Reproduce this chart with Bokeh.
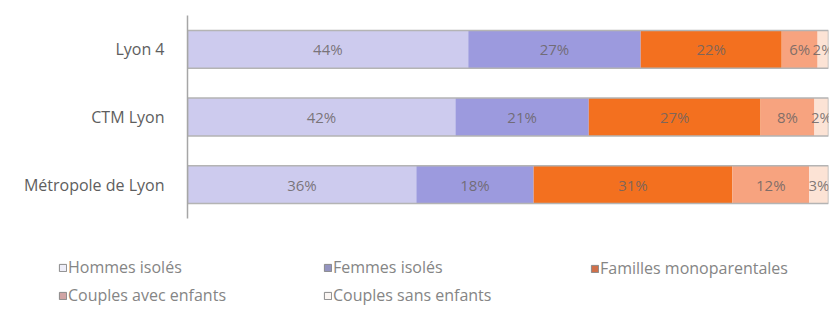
import numpy as np
from bokeh.plotting import figure
from bokeh.layouts import column
from bokeh.models import ColumnDataSource, Legend, LegendItem, Range1d, FactorRange
from bokeh.core.properties import value
from bokeh.embed import file_html
from bokeh.resources import INLINE

territoires = ["Lyon 4", "CTM Lyon", "Métropole de Lyon"]
series = ["Hommes isolés", "Femmes isolés", "Familles monoparentales",
          "Couples avec enfants", "Couples sans enfants"]
hommes_isoles = [43.8, 41.8, 35.7]
femmes_isolees = [26.9, 20.8, 18.3]
familles_mono = [22.0, 26.8, 31.0]
couples_avec = [5.6, 8.4, 12.0]
couples_sans = [1.7, 2.2, 3.0]
colors = ["#cdcbee", "#9c9ade", "#f3701f", "#f7a37f", "#fce3d5"]
legend_colors = ["#eeeef8", "#9494c0", "#d0704a", "#d0a4a4", "#fbf6f3"]

FONT = "Open Sans"
W = 838
H1 = 228
H2 = 79

p = figure(width=W, height=H1, output_backend="svg", toolbar_location=None,
           y_range=FactorRange(*territoires[::-1]), x_range=Range1d(0, 100),
           min_border_left=187, min_border_right=W - 828, min_border_top=15,
           min_border_bottom=H1 - 218)
p.outline_line_color = None
p.xgrid.visible = False
p.ygrid.visible = False
p.xaxis.visible = False
p.yaxis.axis_line_color = "#a6a6a6"
p.yaxis.axis_line_width = 1.5
p.yaxis.major_tick_line_color = None
p.yaxis.minor_tick_line_color = None
p.yaxis.major_label_text_font = FONT
p.yaxis.major_label_text_font_size = "16px"
p.yaxis.major_label_text_color = "#5e5e5e"
p.yaxis.major_label_standoff = 17

vals = [hommes_isoles, femmes_isolees, familles_mono, couples_avec, couples_sans]
data = {"cat": territoires}
for s, v in zip(series, vals):
    data[s] = v
src = ColumnDataSource(data)
p.hbar_stack(series, y="cat", height=0.56, color=colors, source=src,
             line_color=None)

# outline of each bar
tot = np.sum(np.array(vals), axis=0)
p.hbar(y=territoires, left=0, right=tot, height=0.56, fill_color=None,
       line_color="#b4b4b4", line_width=1.5)

# labels
arr = np.array(vals)
cum = np.cumsum(arr, axis=0)
lx, ly, lt = [], [], []
for i in range(arr.shape[0]):
    for j in range(arr.shape[1]):
        lx.append(cum[i, j] - arr[i, j] / 2)
        ly.append(territoires[j])
        lt.append(f"{round(arr[i, j]):.0f}%")
p.text(x=lx, y=ly, text=lt, text_align="center", text_baseline="middle",
       text_font=value(FONT), text_font_size="15px", text_color="#6a6464",
       text_alpha=0.85)

# legend figure
q = figure(width=W, height=H2, output_backend="svg", toolbar_location=None,
           x_range=Range1d(0, 1), y_range=Range1d(0, 1),
           min_border_left=0, min_border_right=0, min_border_top=0,
           min_border_bottom=0)
q.outline_line_color = None
q.xgrid.visible = False
q.ygrid.visible = False
q.xaxis.visible = False
q.yaxis.visible = False
off = 187
try:
    q.frame_align = False
    p.frame_align = False
    off = 0
except Exception:
    off = 187

dummies = []
for c in legend_colors:
    dummies.append(q.quad(left=[np.nan], right=[np.nan], top=[np.nan],
                          bottom=[np.nan], fill_color=c, line_color="#8a8a8a",
                          line_width=1))

def mk_legend(idx, x, y):
    lg = Legend(items=[LegendItem(label=series[i], renderers=[dummies[i]]) for i in idx],
                location=(x - off, y), orientation="vertical",
                label_text_font=FONT, label_text_font_size="16px",
                label_text_color="#858585", label_text_baseline="middle",
                glyph_width=9, glyph_height=9,
                label_standoff=1, spacing=6, padding=0, margin=0,
                border_line_color=None, background_fill_alpha=0,
                label_height=9)
    q.add_layout(lg, "center")

mk_legend([0, 3], 58, 1)
mk_legend([1, 4], 323, 1)
mk_legend([2], 590, 28)

layout = column(p, q, spacing=0)
open("out.html", "w").write(file_html(layout, INLINE))
